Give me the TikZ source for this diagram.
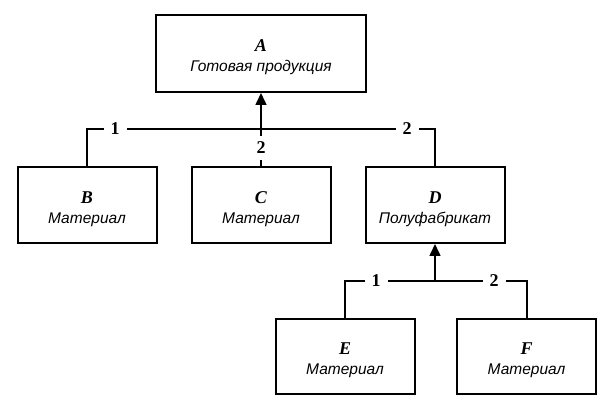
\documentclass[tikz,border=0pt]{standalone}
\usepackage{fontspec}
\setmainfont{Liberation Serif}
\newfontfamily\rusf{Liberation Sans}
\usetikzlibrary{arrows.meta}
\tikzset{
  box/.style={draw, line width=2pt, minimum width=139pt, minimum height=76pt, inner sep=0pt, align=center},
  wire/.style={line width=2pt},
  arr/.style={line width=1.6pt, -{Triangle[length=12pt,width=11pt]}},
  num/.style={fill=white, inner xsep=7pt, inner ysep=6pt, font=\fontsize{18}{18}\selectfont\bfseries},
}
\newcommand{\boxtxt}[2]{{\rule{0pt}{20pt}\fontsize{18}{18}\selectfont\bfseries\itshape #1}\\[8pt]{\rusf\itshape\fontsize{15.5}{15.5}\selectfont #2}}
\begin{document}
\begin{tikzpicture}[x=1pt,y=-1pt]
\useasboundingbox (0,0) rectangle (611,411);
\node[box, minimum width=210pt, minimum height=77pt] (A) at (261,53.5) {\boxtxt{A}{Готовая продукция}};
\node[box] (B) at (87,205) {\boxtxt{B}{Материал}};
\node[box] (C) at (261,205.5) {\boxtxt{C}{Материал}};
\node[box] (D) at (435,205) {\boxtxt{D}{Полуфабрикат}};
\node[box, minimum height=75pt] (E) at (345,356.5) {\boxtxt{E}{Материал}};
\node[box, minimum height=75pt] (F) at (526.5,356.5) {\boxtxt{F}{Материал}};
\coordinate (j1) at (261,129);
\coordinate (j2) at (435,281);
\draw[wire] (B.north) |- (j1) -| (D.north);
\draw[wire] (C.north) -- (j1);
\draw[arr] (j1) -- (A.south);
\draw[wire] (E.north) |- (j2) -| (F.north);
\draw[arr] (j2) -- (D.south);
\node[num] (l1) at (115,129) {1};
\node[num] (l2) at (407,129) {2};
\node[num] (l3) at (261,148) {2};
\node[num] (l4) at (376,281) {1};
\node[num] (l5) at (494,281) {2};
\end{tikzpicture}
\end{document}
